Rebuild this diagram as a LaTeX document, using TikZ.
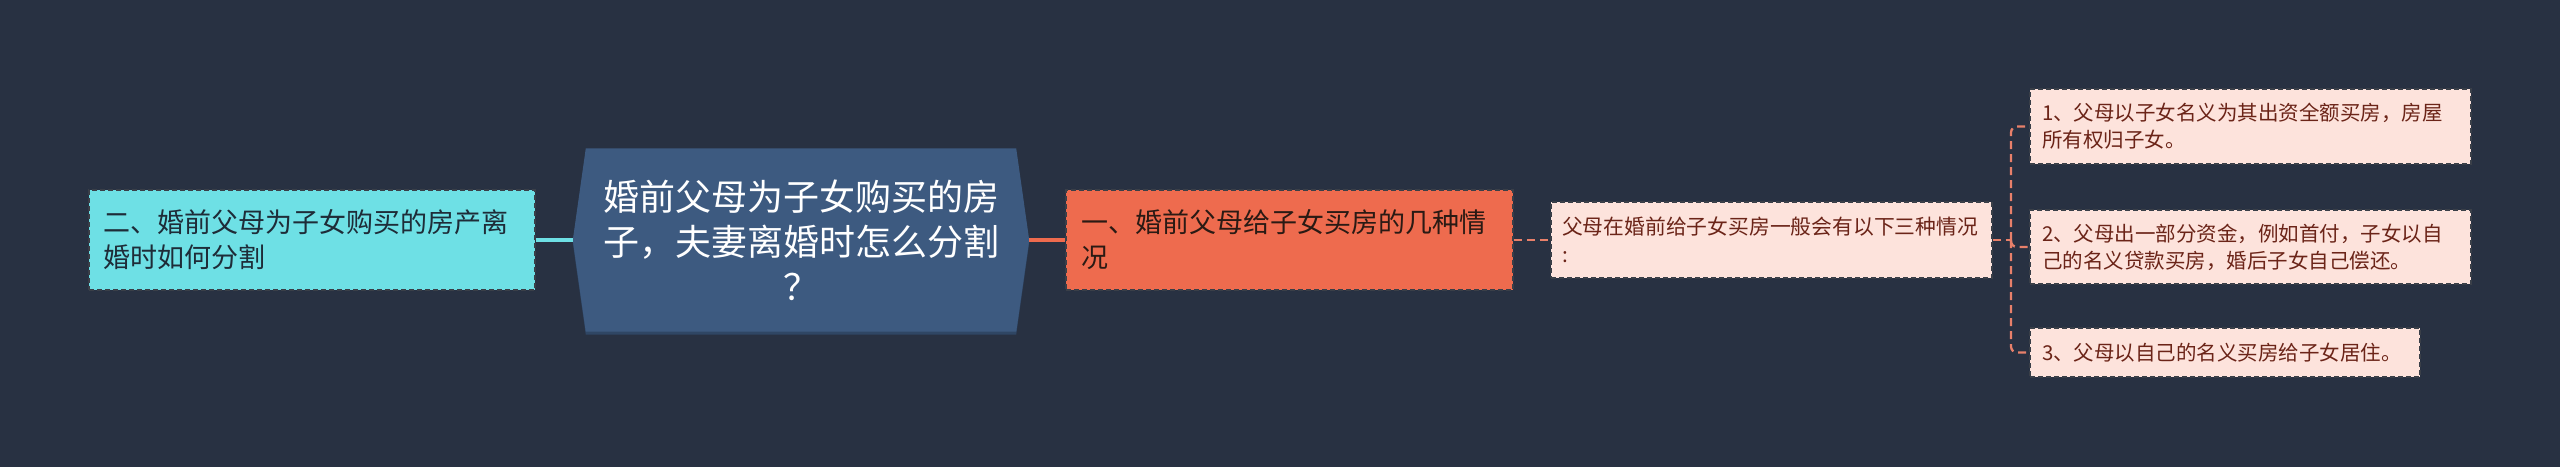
\documentclass[tikz,border=0pt]{standalone}
\usepackage{fontspec}
\setmainfont{Noto Sans CJK SC}
\usetikzlibrary{calc}
\definecolor{bg}{HTML}{283142}
\definecolor{hexfill}{HTML}{3D5A80}
\definecolor{hexshadow}{HTML}{2F4664}
\definecolor{cyanfill}{HTML}{6EE0E5}
\definecolor{orangefill}{HTML}{EE6B4E}
\definecolor{pinkfill}{HTML}{FDE3DC}
\definecolor{boxline}{HTML}{3A3F48}
\definecolor{linksalmon}{HTML}{E8806A}
\definecolor{leaftext}{HTML}{6B2418}
\definecolor{cyantext}{HTML}{1E2C38}
\definecolor{orangetext}{HTML}{2A1A14}
\pgfdeclarelayer{back}
\pgfsetlayers{back,main}
\begin{document}
\begin{tikzpicture}[x=1pt,y=-1pt,
  boxbase/.style={draw=boxline, line width=1.6pt, dash pattern=on 5pt off 3pt, align=left, anchor=center, inner ysep=0pt},
  cyanbox/.style={boxbase, fill=cyanfill, text=cyantext, font=\fontsize{27}{35}\selectfont, inner xsep=14pt, text width=418pt, minimum height=100pt},
  orangebox/.style={boxbase, fill=orangefill, text=orangetext, font=\fontsize{27}{35}\selectfont, inner xsep=15pt, text width=417pt, minimum height=100pt},
  pinkbox/.style={boxbase, fill=pinkfill, text=leaftext},
  solidlink/.style={line width=3.5pt},
  dashlink/.style={draw=linksalmon, line width=2.3pt, dash pattern=on 8pt off 5pt},
]
\begin{pgfonlayer}{back}
\fill[bg] (0,0) rectangle (2560,467);
\end{pgfonlayer}
\useasboundingbox (0,0) rectangle (2560,467);

% central hexagon node
\node[minimum width=456pt, minimum height=183pt, inner sep=0pt, text=white, align=center,
      font=\fontsize{36}{45}\selectfont] (hex) at (801,240)
      {婚前父母为子女购买的房\\子，夫妻离婚时怎么分割\\？};
\begin{pgfonlayer}{back}
\fill[hexshadow] ($(hex.north west)+(13,3)$) -- ($(hex.north east)+(-13,3)$) -- ($(hex.east)+(0,3)$)
  -- ($(hex.south east)+(-13,3)$) -- ($(hex.south west)+(13,3)$) -- ($(hex.west)+(0,3)$) -- cycle;
\fill[hexfill] ($(hex.north west)+(13,0)$) -- ($(hex.north east)+(-13,0)$) -- (hex.east)
  -- ($(hex.south east)+(-13,0)$) -- ($(hex.south west)+(13,0)$) -- (hex.west) -- cycle;
\end{pgfonlayer}

% left branch
\node[cyanbox] (cy) at (312,240) {二、婚前父母为子女购买的房产离\\婚时如何分割};

% right branch
\node[orangebox] (or) at (1289.5,240) {一、婚前父母给子女买房的几种情\\况};
\node[pinkbox, font=\fontsize{20.8}{28}\selectfont, inner xsep=11pt, text width=419pt, minimum height=76pt]
  (p2) at (1771.5,240) {父母在婚前给子女买房一般会有以下三种情况\\:};

\node[pinkbox, font=\fontsize{20.5}{27}\selectfont, inner xsep=12pt, text width=417pt, minimum height=75pt]
  (l1) at (2250.5,126.5) {1、父母以子女名义为其出资全额买房，房屋\\所有权归子女。};
\node[pinkbox, font=\fontsize{20.5}{27}\selectfont, inner xsep=12pt, text width=417pt, minimum height=74pt]
  (l2) at (2250.5,247) {2、父母出一部分资金，例如首付，子女以自\\己的名义贷款买房，婚后子女自己偿还。};
\node[pinkbox, font=\fontsize{20.5}{27}\selectfont, inner xsep=12pt, text width=366pt, minimum height=49pt]
  (l3) at (2225,352.5) {3、父母以自己的名义买房给子女居住。};

\coordinate (j) at (2011,240);

% connectors
\begin{pgfonlayer}{back}
\draw[solidlink, draw=cyanfill] (cy.east) -- (hex.west);
\draw[solidlink, draw=orangefill] (hex.east) -- (or.west);
\end{pgfonlayer}
\draw[dashlink] (or.east) -- (p2.west);
\draw[dashlink] (p2.east) -- (j);
\draw[dashlink, rounded corners=6pt] (j) |- (l1.west);
\draw[dashlink, rounded corners=6pt] (j) |- (l2.west);
\draw[dashlink, rounded corners=6pt] (j) |- (l3.west);
\end{tikzpicture}
\end{document}
